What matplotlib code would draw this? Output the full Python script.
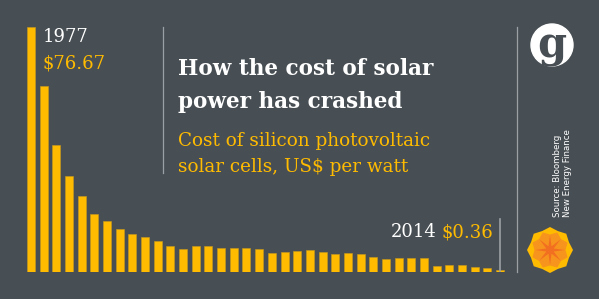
import numpy as np
import matplotlib.pyplot as plt
from matplotlib.patches import Circle, Polygon

# data
years = list(range(1977, 2015))
cost = [76.67, 58.1, 39.6, 29.8, 23.8, 17.9, 15.7, 13.2, 11.9, 10.9,
        9.7, 7.9, 7.2, 7.9, 7.9, 7.5, 7.4, 7.5, 7.1, 5.7,
        6.0, 6.3, 6.6, 6.0, 5.5, 5.9, 5.6, 4.4, 3.9, 4.2,
        4.2, 4.3, 1.8, 2.1, 1.9, 1.4, 1.0, 0.36]
first_label = ("1977", "$76.67")
last_label = ("2014", "$0.36")

BG = "#484f54"
YELLOW = "#ffbb00"
GRID = "#9ba0a4"
W, H = 599, 299

fig = plt.figure(figsize=(W / 100, H / 100), dpi=100, facecolor=BG)

# bars: centres from x=31 to x=500 px, baseline y=271.5 px, top of 76.67 at y=27
step = (500 - 31) / (len(cost) - 1)
left = 31 - step / 2
right = 500 + step / 2
ax = fig.add_axes([left / W, (H - 271.5) / H, (right - left) / W, (271.5 - 27) / H])
ax.set_facecolor("none")
ax.bar(np.arange(len(cost)), cost, width=8 / step, color=YELLOW,
       edgecolor="#c9981c", linewidth=0.4)
ax.set_xlim(-0.5, len(cost) - 0.5)
ax.set_ylim(0, cost[0])
ax.axis("off")

# overlay in pixel coordinates for text and decoration
ov = fig.add_axes([0, 0, 1, 1])
ov.set_xlim(0, W)
ov.set_ylim(H, 0)
ov.axis("off")
ov.set_facecolor("none")

serif = "DejaVu Serif"

ov.plot([163, 163], [27, 173], color=GRID, lw=0.9)
ov.plot([516.5, 516.5], [27, 272], color=GRID, lw=0.9)
ov.plot([499.5, 499.5], [219, 271], color=GRID, lw=1.2)

ov.text(43, 42, first_label[0], color="white", fontsize=13, family=serif,
        va="baseline", ha="left")
ov.text(43, 68.5, first_label[1], color=YELLOW, fontsize=13, family=serif,
        va="baseline", ha="left")

t2 = ov.text(493, 237, last_label[1], color=YELLOW, fontsize=13, family=serif,
             va="baseline", ha="right")
fig.canvas.draw()
bb = t2.get_window_extent()
x_left = bb.x0 - 5  # pixel coords, same as overlay x
ov.text(x_left, 237, last_label[0], color="white", fontsize=13, family=serif,
        va="baseline", ha="right")

ov.text(178, 75, "How the cost of solar", color="white", fontsize=15.5,
        family=serif, fontweight="bold", va="baseline", ha="left")
ov.text(178, 108, "power has crashed", color="white", fontsize=15.5,
        family=serif, fontweight="bold", va="baseline", ha="left")
ov.text(178, 146, "Cost of silicon photovoltaic", color=YELLOW, fontsize=13.2,
        family=serif, va="baseline", ha="left")
ov.text(178, 172.5, "solar cells, US$ per watt", color=YELLOW, fontsize=13.2,
        family=serif, va="baseline", ha="left")

ov.text(557, 217, "Source: Bloomberg", color="white", fontsize=6.2,
        rotation=90, ha="center", va="bottom")
ov.text(567, 217, "New Energy Finance", color="white", fontsize=6.2,
        rotation=90, ha="center", va="bottom")

# guardian roundel
ov.add_patch(Circle((552, 45), 21, color="white"))
ov.text(552, 46, "g", color=BG, fontsize=30, family=serif, fontweight="bold",
        ha="center", va="center")

# sun logo
cx, cy = 550, 250


def star(r_out, r_in, rot, col):
    a = np.arange(16) * np.pi / 8 + rot
    r = np.where(np.arange(16) % 2 == 0, r_out, r_in)
    pts = np.c_[cx + r * np.cos(a), cy + r * np.sin(a)]
    ov.add_patch(Polygon(pts, closed=True, color=col, lw=0))


star(23, 20.5, 0, "#ffbb00")
star(19, 15.5, np.pi / 8, "#f7941d")
star(15, 4, 0, "#f26f21")

fig.savefig("out.png", dpi=100, facecolor=BG)
